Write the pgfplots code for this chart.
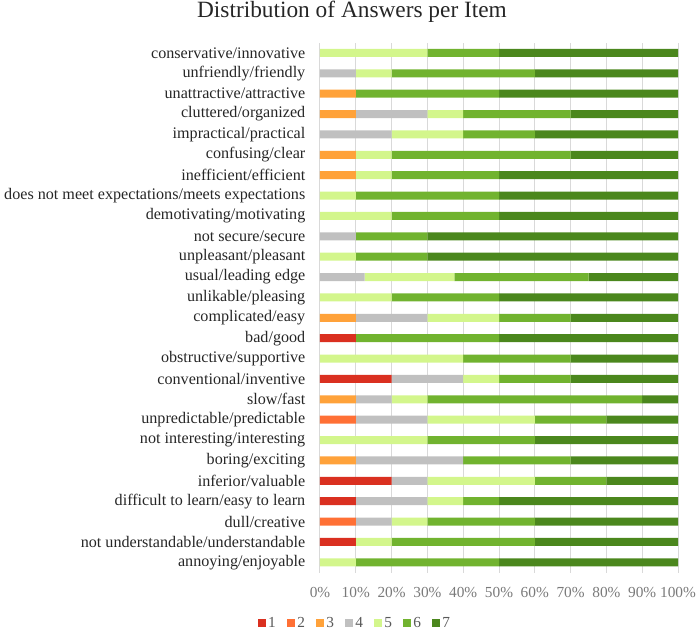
\documentclass[border=0pt]{standalone}
\usepackage{fontspec}
\setmainfont{Liberation Serif}
\usepackage{pgfplots}
\usepackage{pgfplotstable}
\pgfplotsset{compat=1.18}
\definecolor{c1}{HTML}{DA3020}
\definecolor{c2}{HTML}{FF7035}
\definecolor{c3}{HTML}{FFA23A}
\definecolor{c4}{HTML}{C0C0C0}
\definecolor{c5}{HTML}{D3F68C}
\definecolor{c6}{HTML}{71B32F}
\definecolor{c7}{HTML}{4B871D}
\definecolor{gridgray}{HTML}{D9D9D9}
\definecolor{tickgray}{HTML}{7A7A7A}
\definecolor{leggray}{HTML}{595959}
\definecolor{labcol}{HTML}{262626}
\pgfplotstableread{
idx a b c d e f g
0 0 0 0 0 10 40 50
1 10 0 0 0 10 40 40
2 0 10 0 10 10 30 40
3 10 0 0 20 10 10 50
4 20 0 0 10 30 20 20
5 0 0 10 30 0 30 30
6 0 0 0 0 30 30 40
7 0 10 0 20 30 20 20
8 0 0 10 10 10 60 10
9 20 0 0 20 10 20 30
10 0 0 0 0 40 30 30
11 10 0 0 0 0 40 50
12 0 0 10 20 20 20 30
13 0 0 0 0 20 30 50
14 0 0 0 12.5 25 37.5 25
15 0 0 0 0 10 20 70
16 0 0 0 10 0 20 70
17 0 0 0 0 20 30 50
18 0 0 0 0 10 40 50
19 0 0 10 0 10 30 50
20 0 0 10 0 10 50 30
21 0 0 0 20 20 20 40
22 0 0 10 20 10 30 30
23 0 0 10 0 0 40 50
24 0 0 0 10 10 40 40
25 0 0 0 0 30 20 50
}\data
\begin{document}
\begin{tikzpicture}
\path[use as bounding box] (-240pt,-43.9pt) rectangle (283.5pt,429.4pt);
\begin{axis}[
  at={(0pt,0pt)}, anchor=south west,
  scale only axis, width=268.5pt, height=397.3pt,
  xbar stacked, bar width=6pt,
  xmin=0, xmax=100, ymin=-0.5, ymax=25.5,
  ytick={0,...,25},
  yticklabels={annoying/enjoyable,not understandable/understandable,dull/creative,difficult to learn/easy to learn,inferior/valuable,boring/exciting,not interesting/interesting,unpredictable/predictable,slow/fast,conventional/inventive,obstructive/supportive,bad/good,complicated/easy,unlikable/pleasing,usual/leading edge,unpleasant/pleasant,not secure/secure,demotivating/motivating,does not meet expectations/meets expectations,inefficient/efficient,confusing/clear,impractical/practical,cluttered/organized,unattractive/attractive,unfriendly/friendly,conservative/innovative},
  xtick={0,10,...,100},
  xticklabels={0\%,10\%,20\%,30\%,40\%,50\%,60\%,70\%,80\%,90\%,100\%},
  axis line style={draw=none},
  xmajorgrids, ymajorgrids=false,
  grid style={color=gridgray, line width=0.75pt},
  major tick length=0pt,
  tick label style={font=\fontsize{11.5}{13}\selectfont},
  yticklabel style={text=labcol, xshift=-7.5pt, font=\fontsize{12.1}{14}\selectfont},
  xticklabel style={text=tickgray, yshift=-7.6pt},
  legend style={draw=none, fill=none, at={(0.098,-0.0953)}, anchor=center,
    legend columns=7, font=\fontsize{11.5}{13}\selectfont, text=leggray,
    /tikz/every even column/.append style={column sep=6pt}},
  legend image code/.code={\fill[#1] (0pt,-3pt) rectangle (6pt,3pt);},
]
\addplot[fill=c1, draw=none] table[x=a, y=idx] {\data}; \addlegendentry{1}
\addplot[fill=c2, draw=none] table[x=b, y=idx] {\data}; \addlegendentry{2}
\addplot[fill=c3, draw=none] table[x=c, y=idx] {\data}; \addlegendentry{3}
\addplot[fill=c4, draw=none] table[x=d, y=idx] {\data}; \addlegendentry{4}
\addplot[fill=c5, draw=none] table[x=e, y=idx] {\data}; \addlegendentry{5}
\addplot[fill=c6, draw=none] table[x=f, y=idx] {\data}; \addlegendentry{6}
\addplot[fill=c7, draw=none] table[x=g, y=idx] {\data}; \addlegendentry{7}
\end{axis}
\node[anchor=base, font=\fontsize{17.5}{20}\selectfont, text=labcol] at (24pt,416.6pt) {Distribution of Answers per Item};
\end{tikzpicture}
\end{document}
